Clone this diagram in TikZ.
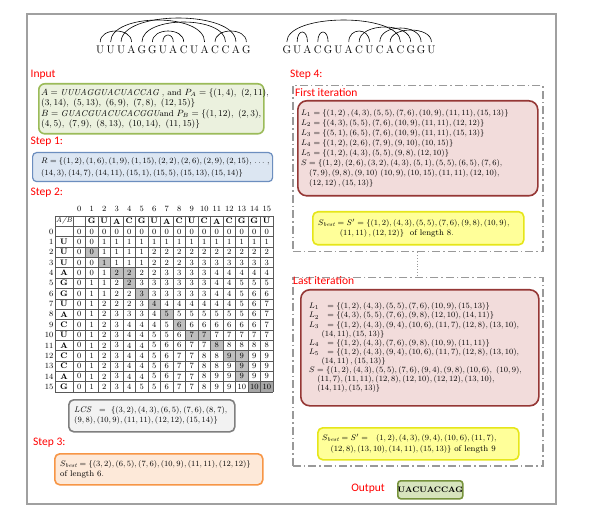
\documentclass[tikz,border=0pt]{standalone}
\usepackage{fontspec}
\newfontfamily\lab{Carlito}
\definecolor{grnB}{HTML}{9BBB59}\definecolor{grnF}{HTML}{EBF1DE}
\definecolor{bluB}{HTML}{6C8EBF}\definecolor{bluF}{HTML}{DCE6F2}
\definecolor{gryB}{HTML}{7F7F7F}\definecolor{gryF}{HTML}{F2F2F2}
\definecolor{orgB}{HTML}{F79646}\definecolor{orgF}{HTML}{FDE9D9}
\definecolor{pnkB}{HTML}{953735}\definecolor{pnkF}{HTML}{F2DCDB}
\definecolor{ylwB}{HTML}{E6E619}\definecolor{ylwF}{HTML}{FFFF99}
\definecolor{outB}{HTML}{77933C}\definecolor{outF}{HTML}{D7E4BD}
\definecolor{frameC}{HTML}{A0A0A0}
\definecolor{dashC}{HTML}{999999}
\begin{document}
\begin{tikzpicture}[x=1pt,y=-1pt,
  box/.style={draw, line width=1.6pt, rounded corners=5pt, inner sep=0pt, anchor=north west},
  boxtext/.style={anchor=west, align=left, inner sep=0pt, font=\fontsize{8.5}{9.5}\selectfont},
  steplabel/.style={font=\lab\fontsize{11.5}{13}\selectfont, text=red, inner sep=0pt, anchor=west},
  seq/.style={font=\fontsize{11}{12}\selectfont, inner xsep=0pt, inner ysep=3.5pt, text height=7.6pt, text depth=0pt},
  arcline/.style={line width=0.6pt},
  cell/.style={font=\fontsize{8}{9}\selectfont, inner sep=0pt},
  gridl/.style={draw=black!65, line width=0.5pt},
  shadeA/.style={fill=gray!50},
  shadeB/.style={fill=gray!70},
  dashbox/.style={draw=dashC, line width=1.5pt, dash pattern=on 8pt off 3pt on 1.5pt off 3pt, anchor=north west, inner sep=0pt},
  conn/.style={draw=dashC, line width=0.8pt, dotted}
]
\useasboundingbox (0,0) rectangle (602,510);
\fill[white] (0,0) rectangle (602,510);
\draw[frameC, line width=1.2pt] (27,14) rectangle (556,504);

% sequences and arcs
\foreach \l [count=\i] in {U,U,U,A,G,G,U,A,C,U,A,C,C,A,G}
  \node[seq] (a\i) at ({100.2+10.44*(\i-1)},49.5) {\l};
\foreach \l [count=\i] in {G,U,A,C,G,U,A,C,U,C,A,C,G,G,U}
  \node[seq] (b\i) at ({286.8+10.33*(\i-1)},49.5) {\l};
\foreach \i/\j/\h in {1/4/11,2/11/22,3/14/24,5/13/20,6/9/11,7/8/7,12/15/11}
  \draw[arcline] (a\i.north) .. controls +(0,{-1.333*\h}) and +(0,{-1.333*\h}) .. (a\j.north);
\foreach \i/\j/\h in {1/12/22,2/3/10,4/5/10,7/9/11,8/13/15,10/14/14,11/15/12}
  \draw[arcline] (b\i.north) .. controls +(0,{-1.333*\h}) and +(0,{-1.333*\h}) .. (b\j.north);

% Input
\node[steplabel] (linput) at (30.5,75) {Input};
\node[box, draw=grnB, fill=grnF, minimum width=225pt, minimum height=50pt, rounded corners=6pt] (inbox) at (38,83) {};
\node[boxtext, font=\fontsize{8.6}{10.5}\selectfont] (intext) at ([xshift=3pt]inbox.west) {%
$A = \mathit{UUUAGGUACUACCAG}$ , and $P_A = \{(1,4),\ (2,11),$\\
$(3,14),\ (5,13),\ (6,9),\ (7,8),\ (12,15)\}$\\
$B = \mathit{GUACGUACUCACGGU}$and $P_B = \{(1,12),\ (2,3),$\\
$(4,5),\ (7,9),\ (8,13),\ (10,14),\ (11,15)\}$};

% Step 1
\node[steplabel] (lstep1) at (30.5,142) {Step 1:};
\node[box, draw=bluB, fill=bluF, line width=1.2pt, minimum width=240pt, minimum height=29pt, rounded corners=4pt] (rbox) at (32,152) {};
\node[boxtext, font=\fontsize{7.8}{12}\selectfont] (rtext) at ([xshift=9pt]rbox.west) {%
$R = \{(1,2),(1,6),(1,9),(1,15),(2,2),(2,6),(2,9),(2,15),\,\ldots\,,$\\
$(14,3),(14,7),(14,11),(15,1),(15,5),(15,13),(15,14)\}$};

% Step 2 table
\node[steplabel] (lstep2) at (30.5,193) {Step 2:};
\foreach \r/\c in {2/1,3/2,4/3,4/4,5/4,6/5,7/6,8/7,9/8,10/9,10/10,11/11,12/12,12/13,13/13,14/13}
  \fill[shadeA] ({73+12.5*\c},{226.35+10.35*\r}) rectangle ++(12.5,10.35);
\foreach \c in {14,15}
  \fill[shadeB] ({73+12.5*\c},{226.35+10.35*15}) rectangle ++(12.5,10.35);
\foreach \k in {0,...,17}
  \draw[gridl] (55,{216+10.35*\k}) -- (273,{216+10.35*\k});
\draw[gridl] (55,216) -- (55,391.95);
\foreach \c in {0,...,16}
  \draw[gridl] ({73+12.5*\c},216) -- ({73+12.5*\c},391.95);
\foreach \c in {0,...,15}
  \node[cell] (ch\c) at ({79.25+12.5*\c},209) {\c};
\node[cell, font=\fontsize{7}{8}\selectfont\itshape] (ab) at (64,221.2) {A/B};
\foreach \l [count=\c] in {G,U,A,C,G,U,A,C,U,C,A,C,G,G,U}
  \node[cell, font=\fontsize{8}{9}\selectfont\bfseries] (hb\c) at ({79.25+12.5*\c},221.2) {\l};
\foreach \r/\l/\vals in {
 0/{}/{0,0,0,0,0,0,0,0,0,0,0,0,0,0,0,0},
 1/U/{0,0,1,1,1,1,1,1,1,1,1,1,1,1,1,1},
 2/U/{0,0,1,1,1,1,2,2,2,2,2,2,2,2,2,2},
 3/U/{0,0,1,1,1,1,2,2,2,3,3,3,3,3,3,3},
 4/A/{0,0,1,2,2,2,2,3,3,3,3,4,4,4,4,4},
 5/G/{0,1,1,2,2,3,3,3,3,3,3,4,4,5,5,5},
 6/G/{0,1,1,2,2,3,3,3,3,3,3,4,4,5,6,6},
 7/U/{0,1,2,2,2,3,4,4,4,4,4,4,4,5,6,7},
 8/A/{0,1,2,3,3,3,4,5,5,5,5,5,5,5,6,7},
 9/C/{0,1,2,3,4,4,4,5,6,6,6,6,6,6,6,7},
 10/U/{0,1,2,3,4,4,5,5,6,7,7,7,7,7,7,7},
 11/A/{0,1,2,3,4,4,5,6,6,7,7,8,8,8,8,8},
 12/C/{0,1,2,3,4,4,5,6,7,7,8,8,9,9,9,9},
 13/C/{0,1,2,3,4,4,5,6,7,7,8,8,9,9,9,9},
 14/A/{0,1,2,3,4,4,5,6,7,7,8,9,9,9,9,9},
 15/G/{0,1,2,3,4,5,5,6,7,7,8,9,9,10,10,10}}{
  \node[cell, anchor=east] (rn\r) at (53.5,{231.5+10.35*\r}) {\r};
  \node[cell, font=\fontsize{8}{9}\selectfont\bfseries] (rl\r) at (64,{231.5+10.35*\r}) {\l};
  \foreach \v [count=\c from 0] in \vals
    \node[cell] (v\r-\c) at ({79.25+12.5*\c},{231.5+10.35*\r}) {\v};
}

% LCS
\node[box, draw=gryB, fill=gryF, minimum width=166pt, minimum height=32pt] (lcsbox) at (68,399) {};
\node[boxtext, font=\fontsize{8.2}{10}\selectfont] (lcstext) at ([xshift=6pt]lcsbox.west) {%
$\mathit{LCS}\ \ =\ \{(3,2),(4,3),(6,5),(7,6),(8,7),$\\
$(9,8),(10,9),(11,11),(12,12),(15,14)\}$};

% Step 3
\node[steplabel] (lstep3) at (33,443) {Step 3:};
\node[box, draw=orgB, fill=orgF, minimum width=208pt, minimum height=31pt] (s3box) at (54,453) {};
\node[boxtext, font=\fontsize{8.3}{9.5}\selectfont] (s3text) at ([xshift=6pt]s3box.west) {%
$S_{\mathit{best}} = \{(3,2),(6,5),(7,6),(10,9),(11,11),(12,12)\}$\\
of length 6.};

% Step 4
\node[steplabel] (lstep4) at (290,75) {Step 4:};
\node[dashbox, minimum width=250pt, minimum height=166pt] (it1) at (292,85) {};
\node[steplabel] (lfirst) at (295,92.5) {First iteration};
\node[box, draw=pnkB, fill=pnkF, minimum width=240pt, minimum height=95pt, rounded corners=9pt] (p1box) at (297,100) {};
\node[boxtext, font=\fontsize{8}{10}\selectfont] (p1text) at ([xshift=4pt]p1box.west) {%
$L_1 = \{(1,2)\,,(4,3),(5,5),(7,6),(10,9),(11,11),(15,13)\}$\\
$L_2 = \{(4,3),(5,5),(7,6),(10,9),(11,11),(12,12)\}$\\
$L_3 = \{(5,1),(6,5),(7,6),(10,9),(11,11),(15,13)\}$\\
$L_4 = \{(1,2),(2,6),(7,9),(9,10),(10,15)\}$\\
$L_5 = \{(1,2),(4,3),(5,5),(9,8),(12,10)\}$\\
$S = \{(1,2),(2,6),(3,2),(4,3),(5,1),(5,5),(6,5),(7,6),$\\
\hspace*{1em}$(7,9),(9,8),(9,10)\ (10,9),(10,15),(11,11),(12,10),$\\
\hspace*{1em}$(12,12)\,,(15,13)\}$};
\node[box, draw=ylwB, fill=ylwF, minimum width=211pt, minimum height=33pt] (y1box) at (312,211) {};
\node[boxtext, font=\fontsize{8.3}{10}\selectfont] (y1text) at ([xshift=6pt]y1box.west) {%
$S_{\mathit{best}} = S' = \{(1,2),(4,3),(5,5),(7,6),(9,8),(10,9),$\\
\hspace*{2.6em}$(11,11)\,,(12,12)\}$\ \ of length 8.};

\node[dashbox, minimum width=250pt, minimum height=188pt] (it2) at (292,277) {};
\draw[conn] (it1.south) -- (it2.north);
\node[steplabel] (llast) at (293,281) {Last iteration};
\node[box, draw=pnkB, fill=pnkF, minimum width=238pt, minimum height=116pt, rounded corners=9pt] (p2box) at (300,289) {};
\node[boxtext, font=\fontsize{8.2}{9.1}\selectfont] (p2text) at ([xshift=9pt]p2box.west) {%
$L_1\ \ = \{(1,2),(4,3),(5,5),(7,6),(10,9),(15,13)\}$\\
$L_2\ \ = \{(4,3),(5,5),(7,6),(9,8),(12,10),(14,11)\}$\\
$L_3\ \ = \{(1,2),(4,3),(9,4),(10,6),(11,7),(12,8),(13,10),$\\
\hspace*{1.5em}$(14,11),(15,13)\}$\\
$L_4\ \ = \{(1,2),(4,3),(7,6),(9,8),(10,9),(11,11)\}$\\
$L_5\ \ = \{(1,2),(4,3),(9,4),(10,6),(11,7),(12,8),(13,10),$\\
\hspace*{1.5em}$(14,11)\,,(15,13)\}$\\
$S = \{(1,2),(4,3),(5,5),(7,6),(9,4),(9,8),(10,6),\ (10,9),$\\
\hspace*{1em}$(11,7),(11,11),(12,8),(12,10),(12,12),(13,10),$\\
\hspace*{1em}$(14,11),(15,13)\}$};
\node[box, draw=ylwB, fill=ylwF, minimum width=201pt, minimum height=32pt] (y2box) at (317,427) {};
\node[boxtext, font=\fontsize{8.3}{10.5}\selectfont] (y2text) at ([xshift=5pt]y2box.west) {%
$S_{\mathit{best}} = S' =\ \ (1,2),(4,3),(9,4),(10,6),(11,7),$\\
\hspace*{1em}$(12,8),(13,10),(14,11),(15,13)\}$ of length 9};

% Output
\node[steplabel, anchor=center] (lout) at (368,489) {Output};
\node[box, draw=outB, fill=outF, minimum width=65pt, minimum height=18pt, rounded corners=3pt] (outbox) at (397,480) {};
\node[inner sep=0pt, font=\fontsize{8}{9}\selectfont\bfseries] (outtext) at (outbox.center) {UACUACCAG};
\end{tikzpicture}
\end{document}
